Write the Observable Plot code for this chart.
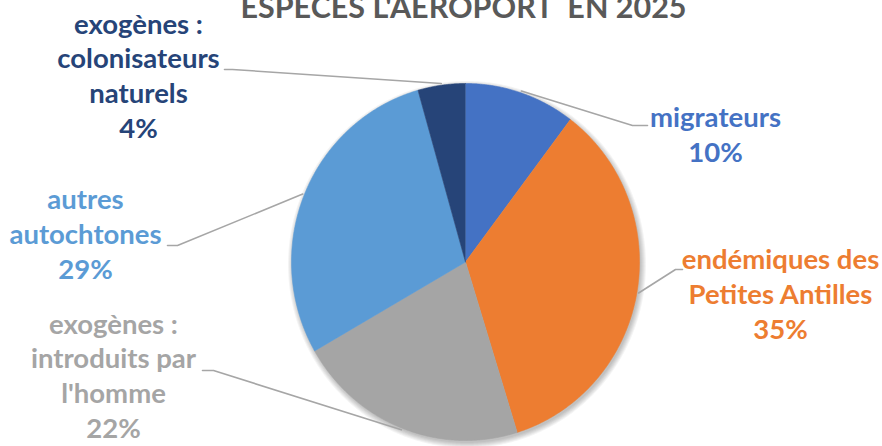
<!DOCTYPE html>
<html><head><meta charset="utf-8">
<script src="https://cdn.jsdelivr.net/npm/d3@7"></script>
<script src="https://cdn.jsdelivr.net/npm/@observablehq/plot@0.6"></script>
<style>
body{margin:0;background:#fff;}
</style></head><body><div id="chart"></div>
<script>
// ---- data ----
const categories = ["migrateurs", "endémiques des Petites Antilles", "exogènes : introduits par l'homme", "autres autochtones", "exogènes : colonisateurs naturels"];
const labelLines = [["migrateurs"], ["endémiques des", "Petites Antilles"], ["exogènes :", "introduits par", "l'homme"], ["autres", "autochtones"], ["exogènes :", "colonisateurs", "naturels"]];
const values = [10.3, 34.9, 21.5, 28.9, 4.4];
const colors = ["#4472C4", "#ED7D31", "#A5A5A5", "#5B9BD5", "#264478"];
const title = "ESPECES L'AEROPORT  EN 2025";

// ---- layout ----
const W = 882, H = 446;
const P = {cx: 465, cy: 261.5, rx: 174, ry: 178.5};
const labelLayout = [
  {x: 715, y: 161, side: 647, elbow: 632, ly: 125},
  {x: 780, y: 338, side: 682, elbow: 675, ly: 269},
  {x: 113, y: 437, side: 202, elbow: 213, ly: 370},
  {x: 85,  y: 278, side: 167, elbow: 177, ly: 245},
  {x: 138, y: 137, side: 224, elbow: 232, ly: 69}
];
const FONT = "Lato, 'Open Sans', sans-serif";

const rows = categories.map((name, i) => ({name, value: values[i], lines: labelLines[i]}));
const arcs = d3.pie().sort(null).value(d => d.value)(rows);
const px = (a, k = 1) => P.cx + P.rx * k * Math.sin(a);
const py = (a, k = 1) => P.cy - P.ry * k * Math.cos(a);

const slicePts = [];
arcs.forEach(a => {
  slicePts.push({name: a.data.name, x: P.cx, y: P.cy});
  const n = Math.max(2, Math.ceil((a.endAngle - a.startAngle) / 0.005));
  for (let j = 0; j <= n; j++) {
    const t = a.startAngle + (a.endAngle - a.startAngle) * j / n;
    slicePts.push({name: a.data.name, x: px(t), y: py(t)});
  }
});

// soft shadow: stacked translucent ellipses, slightly offset
const shadowPts = [];
for (let k = 0; k < 6; k++) {
  for (let j = 0; j <= 720; j++) {
    const t = 2 * Math.PI * j / 720;
    shadowPts.push({ring: k, x: P.cx + 1.5 + (P.rx + k) * Math.sin(t), y: P.cy + 2.5 - (P.ry + k) * Math.cos(t)});
  }
}

const leaderPts = [];
arcs.forEach((a, i) => {
  const L = labelLayout[i], m = (a.startAngle + a.endAngle) / 2;
  leaderPts.push({name: a.data.name, x: L.side, y: L.ly});
  leaderPts.push({name: a.data.name, x: L.elbow, y: L.ly});
  leaderPts.push({name: a.data.name, x: px(m, 1.01), y: py(m, 1.01)});
});

const labels = arcs.map((a, i) => ({
  name: a.data.name,
  x: labelLayout[i].x, y: labelLayout[i].y,
  text: [...a.data.lines, Math.round(a.data.value) + "%"].join("\n")
}));

const chart = Plot.plot({
  width: W, height: H, margin: 0,
  x: {domain: [0, W], range: [0, W], axis: null},
  y: {domain: [0, H], range: [0, H], axis: null},
  color: {domain: categories, range: colors},
  style: {fontFamily: FONT, background: "white"},
  marks: [
    Plot.line(shadowPts, {x: "x", y: "y", z: "ring", fill: "#000", fillOpacity: 0.045, stroke: "none"}),
    Plot.line(slicePts, {x: "x", y: "y", z: "name", fill: "name", stroke: "name", strokeWidth: 0.6}),
    Plot.line(leaderPts, {x: "x", y: "y", z: "name", stroke: "#A6A6A6", strokeWidth: 1.6}),
    Plot.text(labels, {x: "x", y: "y", text: "text", fill: "name", fontSize: 27.5, fontWeight: "bold", fontFamily: FONT, lineAnchor: "bottom", lineHeight: 1.255, textAnchor: "middle"}),
    Plot.text([title], {frameAnchor: "top", dx: 22, dy: 17, text: d => d, fill: "#595959", fontSize: 30.5, fontWeight: "bold", fontFamily: FONT, lineAnchor: "bottom"})
  ]
});
document.getElementById("chart").append(chart);
</script></body></html>
